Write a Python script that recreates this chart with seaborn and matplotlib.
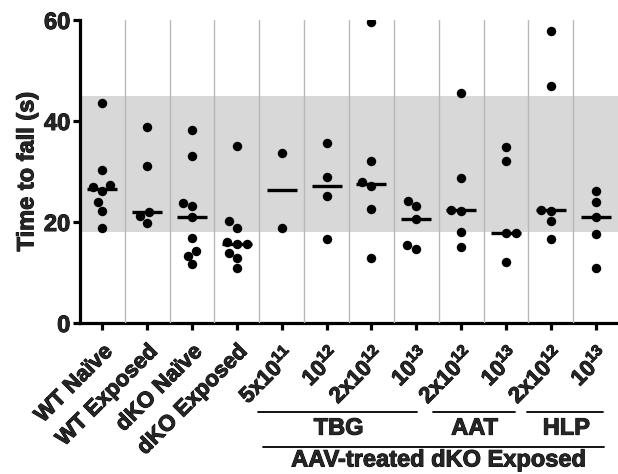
import numpy as np
import pandas as pd
import matplotlib
matplotlib.use("Agg")
import matplotlib.pyplot as plt
import matplotlib.transforms as mtransforms
import matplotlib.patheffects as pe
import seaborn as sns

# ---- data -------------------------------------------------------------
groups = ["WT Naive", "WT Exposed", "dKO Naive", "dKO Exposed",
          "TBG 5e11", "TBG 1e12", "TBG 2e12", "TBG 1e13",
          "AAT 2e12", "AAT 1e13", "HLP 2e12", "HLP 1e13"]
tick_labels = ["WT Naïve", "WT Exposed", "dKO Naïve", "dKO Exposed",
               "5x10$^{11}$", "10$^{12}$", "2x10$^{12}$", "10$^{13}$",
               "2x10$^{12}$", "10$^{13}$", "2x10$^{12}$", "10$^{13}$"]
wt_naive = [43.6, 30.2, 27.3, 27.0, 26.2, 23.9, 22.2, 18.9]
wt_exposed = [38.9, 31.0, 22.0, 21.2, 19.9]
dko_naive = [38.2, 33.1, 23.7, 23.2, 20.9, 16.9, 14.3, 13.3, 11.6]
dko_exposed = [35.1, 20.1, 18.9, 16.1, 15.6, 15.6, 13.9, 12.9, 10.9]
tbg_5e11 = [33.7, 18.9]
tbg_1e12 = [35.6, 29.0, 25.1, 16.6]
tbg_2e12 = [59.7, 32.1, 28.0, 27.2, 22.6, 12.8]
tbg_1e13 = [24.2, 23.2, 20.6, 15.4, 14.6]
aat_2e12 = [45.6, 28.8, 22.4, 22.2, 18.0, 15.1]
aat_1e13 = [34.9, 32.1, 17.9, 17.9, 12.1]
hlp_2e12 = [57.9, 46.9, 22.4, 22.2, 20.1, 16.6]
hlp_1e13 = [26.2, 23.9, 20.9, 17.6, 10.8]
series = [wt_naive, wt_exposed, dko_naive, dko_exposed, tbg_5e11, tbg_1e12,
          tbg_2e12, tbg_1e13, aat_2e12, aat_1e13, hlp_2e12, hlp_1e13]
normal_range = (18, 45)
promoters = ["TBG", "AAT", "HLP"]
promoter_spans = [(3.47, 7.02), (7.38, 9.2), (9.47, 11.16)]
promoter_text_x = [5.27, 8.3, 10.35]
outer_label = "AAV-treated dKO Exposed"

df = pd.DataFrame({
    "group": [g for g, s in zip(groups, series) for _ in s],
    "value": [v for s in series for v in s],
})

# ---- style ------------------------------------------------------------
sns.set_theme(style="ticks")
plt.rcParams["font.family"] = ["Liberation Sans", "DejaVu Sans"]
plt.rcParams["font.weight"] = "bold"
plt.rcParams["mathtext.fontset"] = "custom"
plt.rcParams["mathtext.rm"] = "Liberation Sans:bold"
plt.rcParams["mathtext.it"] = "Liberation Sans:bold"
plt.rcParams["mathtext.bf"] = "Liberation Sans:bold"
plt.rcParams["mathtext.default"] = "rm"

heavy = [pe.withStroke(linewidth=0.7, foreground="black")]

fig = plt.figure(figsize=(6.18, 4.74), dpi=100)
ax = fig.add_axes([80 / 618, 1 - 323 / 474, 538 / 618, 303 / 474])

ax.axhspan(*normal_range, color="#d8d8d8", zorder=0, lw=0)

sns.swarmplot(data=df, x="group", y="value", order=groups, color="black",
              size=6.8, ax=ax, zorder=3)
sns.pointplot(data=df, x="group", y="value", order=groups, estimator="median",
              errorbar=None, color="black", marker="_", markersize=22,
              markeredgewidth=2.4, linestyle="none", ax=ax, zorder=4)

ax.set_xlim(-0.5, len(groups) - 0.5)
ax.set_ylim(0, 60)
ax.set_yticks([0, 20, 40, 60])
ax.set_xticks(np.arange(0.5, len(groups) - 1, 1.0), minor=True)
ax.grid(which="minor", axis="x", color="#b8b8b8", lw=1.0, zorder=1)
ax.grid(which="major", visible=False)
ax.tick_params(axis="x", which="minor", length=0)
ax.set_axisbelow(False)

sns.despine(ax=ax)
for sp in ("left", "bottom"):
    ax.spines[sp].set_linewidth(2.3)
    ax.spines[sp].set_color("black")
ax.tick_params(axis="both", which="major", length=5, width=2.3, color="black")
ax.tick_params(axis="y", labelsize=17, pad=2)
ax.tick_params(axis="x", labelsize=16, pad=8)
ax.set_xticks(range(len(groups)))
ax.set_xticklabels(tick_labels, rotation=45, ha="right", va="top",
                   rotation_mode="anchor", fontsize=16, fontweight="bold")
for lab in ax.get_yticklabels() + ax.get_xticklabels():
    lab.set_fontweight("bold")
    lab.set_path_effects(heavy)
ax.set_xlabel("")
ax.set_ylabel("Time to fall (s)", fontsize=17, fontweight="bold", labelpad=4,
              path_effects=heavy)

trans = mtransforms.blended_transform_factory(ax.transData, ax.transAxes)
for name, (x0, x1), tx in zip(promoters, promoter_spans, promoter_text_x):
    ax.plot([x0, x1], [-0.294, -0.294], color="black", lw=1.3,
            transform=trans, clip_on=False)
    ax.text(tx, -0.347, name, transform=trans, ha="center", va="center",
            fontsize=17, fontweight="bold", path_effects=heavy)
ax.plot([3.58, 11.18], [-0.409, -0.409], color="black", lw=1.3,
        transform=trans, clip_on=False)
ax.text(7.5, -0.452, outer_label, transform=trans, ha="center", va="center",
        fontsize=17, fontweight="bold", path_effects=heavy)

fig.savefig("out.png", dpi=100)
